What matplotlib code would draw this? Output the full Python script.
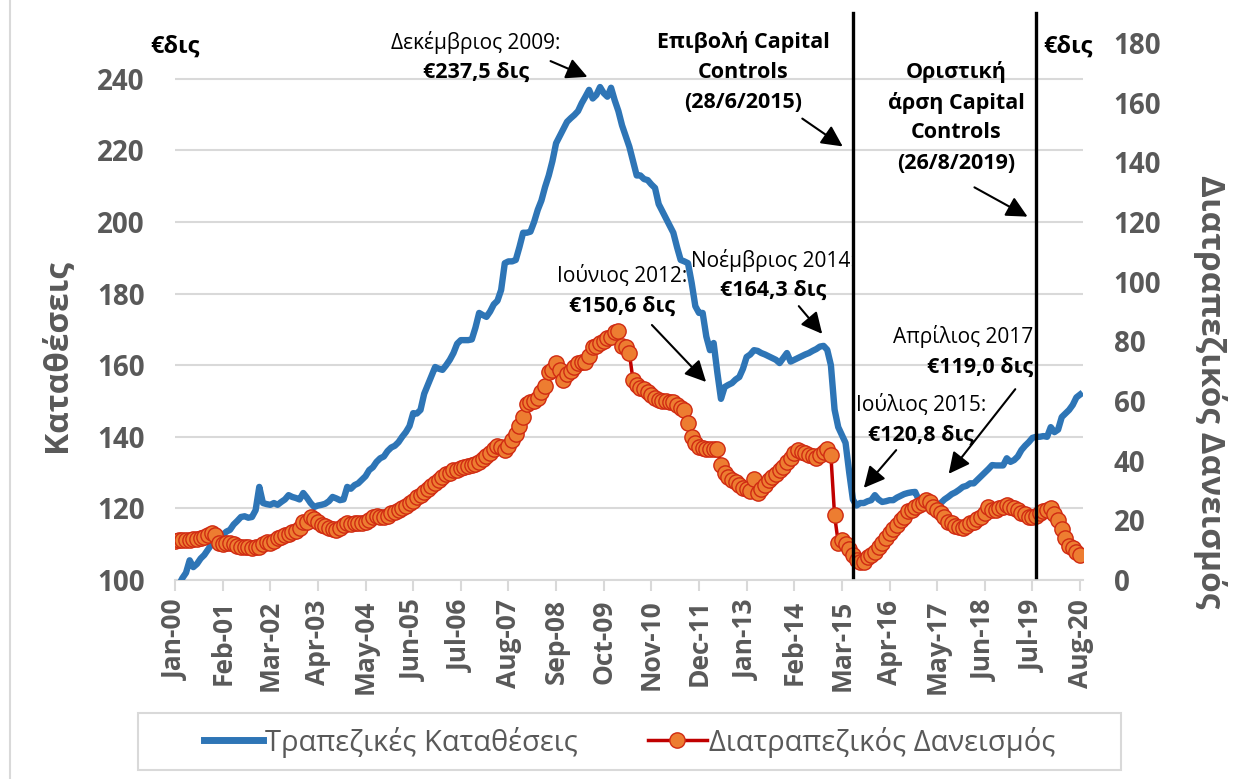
import matplotlib
matplotlib.use("Agg")
import matplotlib.pyplot as plt
from matplotlib.lines import Line2D
from matplotlib.patches import Rectangle

plt.rcParams['font.family'] = ['Open Sans', 'DejaVu Sans']

W, H = 1236, 779

# monthly data Jan-2000 .. Aug-2020
deposits = [
    96.5, 98.5, 100.5, 102, 105.5, 103.6, 104.5, 106, 107, 108.5, 110, 111,            # 2000
    111.5, 112.5, 113.5, 114, 115.5, 116.5, 117.6, 117.8, 117.4, 117.6, 119.5, 126,    # 2001
    121.5, 121.2, 121, 121.5, 121, 121.8, 122.5, 123.7, 123.2, 122.9, 122.5, 124.3,    # 2002
    123, 121.5, 120.4, 120.8, 121, 121.3, 122, 123.2, 122.8, 122.3, 122.5, 126,        # 2003
    125.5, 126.5, 127, 128, 129, 130.7, 131.5, 133, 134, 134.5, 136, 137,              # 2004
    137.5, 138.5, 140, 141.3, 143, 146.6, 146.5, 147.5, 152, 154.5, 157, 159.5,        # 2005
    159, 158.7, 160, 161.5, 163.4, 166, 167, 167, 167, 167.2, 170.5, 174.6,            # 2006
    174, 173.5, 175, 177, 178, 181, 188.5, 189, 189, 189.4, 193, 197,                  # 2007
    197, 197.3, 200, 203.4, 206, 209.8, 213, 217, 222, 224, 226, 228,                  # 2008
    229, 229.9, 231, 233.2, 235, 236.9, 234.5, 235.5, 237.7, 236, 235, 237.5,          # 2009
    234, 231, 227, 224, 221, 217, 213, 213, 212, 211.7, 210.5, 209.5,                  # 2010
    205, 203, 201, 199, 197, 193, 189.4, 189, 188.5, 183, 176.5, 174.6,                # 2011
    174.6, 168, 164.2, 166.2, 158, 150.6, 153.9, 154.5, 155, 156, 156.7, 159,          # 2012
    162.3, 163, 164.2, 164, 163.4, 163, 162.5, 162, 161.5, 160.6, 162, 163.4,          # 2013
    161, 161.5, 162, 162.5, 163, 163.4, 164, 164.5, 165.2, 165.4, 164.3, 160,          # 2014
    147.6, 142.7, 140.5, 138.3, 130, 122.5, 120.8, 121.5, 121.5, 122, 122.3, 123.7,    # 2015
    122.5, 121.8, 122, 122.3, 122.3, 123, 123.5, 124, 124.3, 124.5, 124.6, 122.3,      # 2016
    121.5, 120.8, 120, 119.0, 120.5, 121.5, 122.5, 123.2, 124, 124.5, 125.2, 126,      # 2017
    126.3, 127, 127, 128, 129, 130, 131, 132.1, 132, 132, 132, 134,                    # 2018
    133, 133.5, 134.5, 136.3, 137.5, 138.5, 139.7, 140, 140, 140.2, 140, 142.7,        # 2019
    141.3, 142, 145.5, 146.5, 147.5, 148.9, 151, 151.8,                                # 2020
]

interbank = [
    13.2, 13.4, 13.3, 13.4, 13.5, 13.6, 13.8, 14, 14.5, 15, 15.7, 15.2,                # 2000
    12.4, 12.2, 12.5, 12.4, 12, 11.5, 11, 11.2, 11, 10.8, 11, 11.2,                    # 2001
    12, 12.7, 12.3, 13, 14, 14.5, 15.2, 15.5, 16, 16.5, 17.5, 19.4,                    # 2002
    19.4, 21, 20.5, 19.5, 18.4, 18, 17.5, 17, 16.7, 17.5, 18.5, 19,                    # 2003
    18.7, 19, 19.2, 19, 19.5, 20.2, 21, 21.3, 21, 21.2, 21.5, 22.5,                    # 2004
    22.8, 23.4, 24.2, 24.8, 25.7, 26.5, 27.8, 28.5, 29.5, 30.5, 31.5, 32.5,            # 2005
    33.5, 34.4, 35.5, 36, 36.8, 37, 37.5, 38, 38.2, 38.5, 39, 39.5,                    # 2006
    40.5, 41.5, 42.5, 44, 45, 44.5, 43.5, 45, 46.8, 49, 51.5, 54.5,                    # 2007
    59, 59.5, 60, 61, 63, 65, 69.6, 70.5, 72.6, 70.5, 67, 69,                          # 2008
    70, 71.5, 72.6, 73, 73, 75, 78, 78.5, 79.3, 80, 81, 81.3,                          # 2009
    83, 83.6, 78.6, 78, 76, 67, 65.5, 64.5, 64, 63, 62, 61,                            # 2010
    60.5, 60, 60, 59.8, 59.5, 58.5, 57.5, 56.9, 52.5, 47.8, 46, 44.5,                  # 2011
    44.2, 44, 44, 44, 44, 38.5, 36, 34.4, 33.5, 32.8, 31.8, 31,                        # 2012
    30.5, 30, 34, 29, 30.5, 32, 33.4, 34.5, 35.5, 36.8, 38, 39.5,                      # 2013
    41, 42.5, 43.5, 43, 42.5, 42, 41.5, 41, 42, 43, 44, 41.8,                          # 2014
    21.7, 12.5, 13.4, 12, 10.5, 8.4, 6.7, 6, 6.2, 7.7, 8.5, 9.4,                       # 2015
    11, 12.4, 14, 15.7, 17, 18.4, 20, 21, 23, 23.4, 24.4, 25,                          # 2016
    25.7, 26.8, 26, 24.4, 23.5, 22.4, 21, 19.5, 19, 18, 17.7, 17.5,                    # 2017
    18, 19, 19.5, 20.5, 21, 22.5, 24.4, 23.5, 23.4, 24, 24.5, 25,                      # 2018
    24.5, 24, 23.5, 22.4, 22, 21, 21, 21.5, 22.4, 23, 23.5, 24,                        # 2019
    22, 20, 17, 14, 11.5, 10.7, 9.5, 8.4,                                              # 2020
]

tick_labels = ["Jan-00", "Feb-01", "Mar-02", "Apr-03", "May-04", "Jun-05", "Jul-06",
               "Aug-07", "Sep-08", "Oct-09", "Nov-10", "Dec-11", "Jan-13", "Feb-14",
               "Mar-15", "Apr-16", "May-17", "Jun-18", "Jul-19", "Aug-20"]

months = list(range(len(deposits)))
gray = "#595959"
blue = "#2E75B6"
red = "#C00000"
orange = "#ED7D31"
medge = "#D02A12"


def fp(x, y):
    # pixel (from top-left) -> figure fraction
    return (x / W, 1 - y / H)


fig = plt.figure(figsize=(W / 100, H / 100), dpi=100)
ax = fig.add_axes([175 / W, 1 - 580 / H, (1083 - 175) / W, (580 - 43) / H])

# outer chart border
fig.patches.append(Rectangle(fp(10, 1000), 1.2, 1.5, transform=fig.transFigure,
                             fill=False, edgecolor="#d9d9d9", lw=1.5, zorder=0))

ax.plot(months, deposits, color=blue, lw=4.6, solid_joinstyle="round", zorder=3)
ax.set_xlim(0, 247.8)
ax.set_ylim(100, 250)
ax.set_yticks(range(100, 241, 20))
ax.set_xticks(range(0, 248, 13))
ax.set_xticklabels(tick_labels, rotation=90)
for s in ["top", "left", "right"]:
    ax.spines[s].set_visible(False)
ax.spines["bottom"].set_color("#d9d9d9")
ax.spines["bottom"].set_linewidth(1.5)
ax.grid(axis="y", color="#d9d9d9", lw=1.5)
ax.set_axisbelow(True)
ax.tick_params(axis="y", length=0, pad=22, labelsize=20, labelcolor=gray)
ax.tick_params(axis="x", length=8, width=1.5, color="#d9d9d9", pad=6,
               labelsize=19, labelcolor=gray)
for t in ax.get_yticklabels() + ax.get_xticklabels():
    t.set_fontweight("bold")

ax2 = ax.twinx()
ax2.plot(months, interbank, color=red, lw=2.5, marker="o", ms=11,
         mfc=orange, mec=medge, mew=1.0, zorder=4)
ax2.set_ylim(0, 180)
ax2.set_yticks(range(0, 181, 20))
for s in ["top", "left", "right", "bottom"]:
    ax2.spines[s].set_visible(False)
ax2.tick_params(axis="y", length=0, pad=22, labelsize=20, labelcolor=gray)
for t in ax2.get_yticklabels():
    t.set_fontweight("bold")

# axis titles
fig.text(*fp(57, 356), "Καταθέσεις", rotation=90, ha="center", va="center",
         fontsize=24, fontweight="bold", color=gray)
fig.text(*fp(1210, 392), "Διατραπεζικός Δανεισμός", rotation=270, ha="center",
         va="center", fontsize=24, fontweight="bold", color=gray)
fig.text(*fp(175, 47), "€δις", ha="center", va="center", fontsize=17,
         fontweight="bold", color="black")
fig.text(*fp(1068, 47), "€δις", ha="center", va="center", fontsize=17,
         fontweight="bold", color="black")

# capital controls lines
for xpix in [853, 1036]:
    fig.add_artist(Line2D([xpix / W, xpix / W], [1 - 13 / H, 1 - 577 / H],
                          color="black", lw=2.4))

arrow = dict(arrowstyle="-|>", color="black", lw=1.5, mutation_scale=32)


def note(lines, xy_txt, head, tail, ha="center"):
    # lines: list of (text, bold); xy_txt: centre of first line
    x, y = xy_txt
    for k, (txt, bold) in enumerate(lines):
        fig.text(*fp(x, y + k * 30.5), txt, ha=ha, va="center", fontsize=15.5 if bold else 15,
                 fontweight="bold" if bold else "normal", color="black")
    if head is not None:
        ax.annotate("", xy=fp(*head), xytext=fp(*tail), xycoords="figure fraction",
                    textcoords="figure fraction", arrowprops=arrow)


note([("Δεκέμβριος 2009:", False), ("€237,5 δις", True)], (476, 42), (590, 78), (548, 60))
note([("Επιβολή Capital", True), ("Controls", True), ("(28/6/2015)", True)], (743, 42),
     (845, 148), (800, 117))
note([("Οριστική", True), ("άρση Capital", True), ("Controls", True), ("(26/8/2019)", True)],
     (956, 72), (1030, 218), (972, 186))
note([("Ιούνιος 2012:", False), ("€150,6 δις", True)], (622, 276), (708, 384), (650, 323))
note([("Νοέμβριος 2014:", False), ("€164,3 δις", True)], (773, 260), (824, 336), (797, 304))
note([("Ιούλιος 2015:", False), ("€120,8 δις", True)], (921, 405), (862, 490), (898, 448))
note([("Απρίλιος 2017", False), ("€119,0 δις", True)], (1033, 337), (947, 476), (1017, 387),
     ha="right")

# legend
fig.patches.append(Rectangle(fp(138, 770), (1121 - 138) / W, 57 / H, transform=fig.transFigure,
                             fill=False, edgecolor="#d9d9d9", lw=1.5))
handles = [Line2D([], [], color=blue, lw=5),
           Line2D([], [], color=red, lw=2.5, marker="o", ms=11, mfc=orange, mec=medge)]
leg = fig.legend(handles, ["Τραπεζικές Καταθέσεις", "Διατραπεζικός Δανεισμός"],
                 loc="center", ncol=2, bbox_to_anchor=fp(630, 742),
                 fontsize=21, frameon=False, handlelength=2.0, handletextpad=0.1,
                 columnspacing=2.4, borderaxespad=0, borderpad=0)
for t in leg.get_texts():
    t.set_color(gray)

fig.savefig("out.png", dpi=100)
